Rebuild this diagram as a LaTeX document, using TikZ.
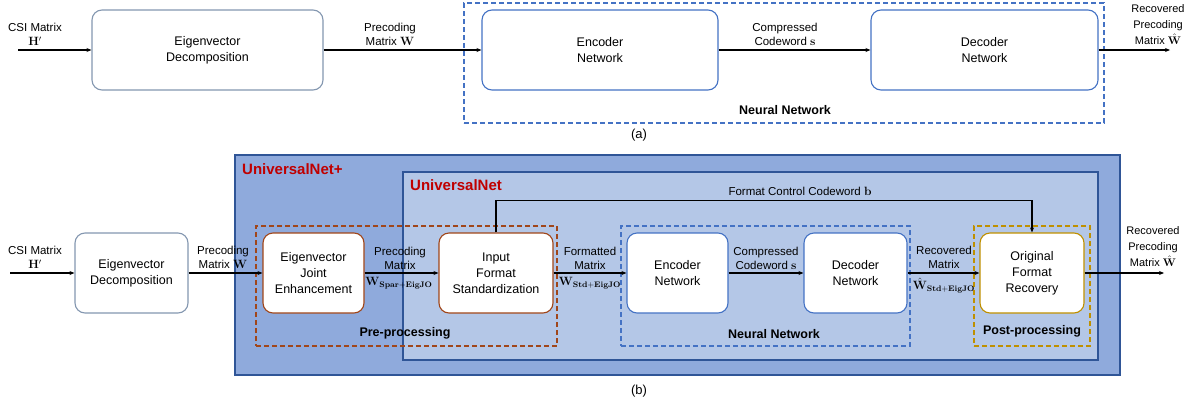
\documentclass[tikz,border=0pt]{standalone}
\usepackage[no-math]{fontspec}
\setmainfont{Liberation Sans}
\usetikzlibrary{arrows.meta}
\definecolor{outerfill}{HTML}{8FAADC}
\definecolor{innerfill}{HTML}{B4C7E7}
\definecolor{darkblue}{HTML}{2F5597}
\definecolor{midblue}{HTML}{4472C4}
\definecolor{grayblue}{HTML}{8497B0}
\definecolor{brownc}{HTML}{A0461A}
\definecolor{goldc}{HTML}{BF9000}
\definecolor{redt}{HTML}{C00000}
\tikzset{
  blk/.style={draw, rounded corners=10pt, fill=white, line width=1.1pt, align=center, minimum height=80pt, font=\fontsize{12.5}{16}\selectfont, inner sep=0pt},
  arr/.style={line width=1.1pt, -{Stealth[length=5pt,width=4pt]}},
  lbl/.style={align=center, font=\fontsize{11.5}{14}\selectfont, inner sep=1pt},
  dbox/.style={draw, dashed, line width=1.1pt, dash pattern=on 5pt off 3pt, inner sep=0pt, fill=none},
  ttl/.style={font=\bfseries\fontsize{12.5}{14}\selectfont, inner sep=0pt},
  redttl/.style={font=\bfseries\fontsize{15}{17}\selectfont, text=redt, inner sep=0pt, anchor=west},
}
\begin{document}
\begin{tikzpicture}[x=1pt,y=-1pt]
\useasboundingbox (0,0) rectangle (1193,407);
% ---------------- (a) ----------------
\coordinate (ain) at (18,50);
\coordinate (aout) at (1170,50);
\node[blk, draw=grayblue, minimum width=231pt] (aeig) at (207.5,50) {Eigenvector\\Decomposition};
\node[dbox, draw=midblue, minimum width=640pt, minimum height=120pt] (ann) at (784,63) {};
\node[blk, draw=midblue, minimum width=236pt] (aenc) at (600,50) {Encoder\\Network};
\node[blk, draw=midblue, minimum width=227pt] (adec) at (984.5,50) {Decoder\\Network};
\node[ttl] (annt) at (785,110) {Neural Network};
\draw[arr] (ain) -- (aeig.west);
\draw[arr] (aeig.east) -- (aenc.west);
\draw[arr] (aenc.east) -- (adec.west);
\draw[arr] (adec.east) -- (aout);
\node[lbl, anchor=south] (acsi) at (35,47) {CSI Matrix\\$\mathbf{H}'$};
\node[lbl, anchor=south] (apre) at (390,47) {Precoding\\Matrix $\mathbf{W}$};
\node[lbl, anchor=south] (acomp) at (785,47) {Compressed\\Codeword $\mathbf{s}$};
\node[lbl, anchor=south, font=\fontsize{11}{16}\selectfont] (arec) at (1158,46) {Recovered\\Precoding\\Matrix $\hat{\mathbf{W}}$};
\node[font=\fontsize{13}{15}\selectfont\rmfamily] (acap) at (639,135) {(a)};
% ---------------- (b) ----------------
\node[draw=darkblue, fill=outerfill, line width=1.2pt, minimum width=885pt, minimum height=220pt, inner sep=0pt] (unp) at (677.5,265) {};
\node[draw=darkblue, fill=innerfill, line width=1.2pt, minimum width=695pt, minimum height=188pt, inner sep=0pt] (un) at (750.5,266) {};
\node[redttl] (unpt) at (242,169) {UniversalNet+};
\node[redttl] (unt) at (410,185) {UniversalNet};
\node[dbox, draw=brownc, minimum width=301pt, minimum height=120pt] (pre) at (406.5,286) {};
\node[dbox, draw=midblue, minimum width=289pt, minimum height=120pt] (nn) at (765.5,286) {};
\node[dbox, draw=goldc, minimum width=116pt, minimum height=120pt] (post) at (1032,286) {};
\node[ttl] (pret) at (405,333) {Pre-processing};
\node[ttl] (nnt) at (774,334) {Neural Network};
\node[ttl] (postt) at (1032,331) {Post-processing};
\coordinate (bin) at (10,273);
\coordinate (bout) at (1164,273);
\node[blk, draw=grayblue, minimum width=113pt] (beig) at (131.5,273) {Eigenvector\\Decomposition};
\node[blk, draw=brownc, minimum width=101pt] (beje) at (313.5,273) {Eigenvector\\Joint\\Enhancement};
\node[blk, draw=brownc, minimum width=114pt] (bifs) at (496,273) {Input\\Format\\Standardization};
\node[blk, draw=midblue, minimum width=101pt] (benc) at (677.5,273) {Encoder\\Network};
\node[blk, draw=midblue, minimum width=103pt] (bdec) at (855.5,273) {Decoder\\Network};
\node[blk, draw=goldc, minimum width=104pt] (bofr) at (1032,273) {Original\\Format\\Recovery};
\draw[arr] (bin) -- (beig.west);
\draw[arr] (beig.east) -- (beje.west);
\draw[arr] (beje.east) -- (bifs.west);
\draw[arr] (bifs.east) -- (benc.west);
\draw[arr] (benc.east) -- (bdec.west);
\draw[arr] (bdec.east) -- (bofr.west);
\draw[arr] (bofr.east) -- (bout);
\draw[arr] (bifs.north) -- ++(0,-32) -| (bofr.north);
\node[lbl, anchor=south] (bfc) at (800,197) {Format Control Codeword $\mathbf{b}$};
\node[lbl, anchor=south] (bcsi) at (35,270) {CSI Matrix\\$\mathbf{H}'$};
\node[lbl, anchor=south] (bpre) at (223,270) {Precoding\\Matrix $\mathbf{W}$};
\node[lbl, anchor=south] (bpre2) at (400,271) {Precoding\\Matrix};
\node[lbl, anchor=north] (bpre2s) at (399,276) {$\mathbf{W}_{\mathbf{Spar+EigJO}}$};
\node[lbl, anchor=south] (bfm) at (590,271) {Formatted\\Matrix};
\node[lbl, anchor=north] (bfms) at (590,276) {$\mathbf{W}_{\mathbf{Std+EigJO}}$};
\node[lbl, anchor=south] (bcomp) at (766,271) {Compressed\\Codeword $\mathbf{s}$};
\node[lbl, anchor=south] (brm) at (944,270) {Recovered\\Matrix};
\node[lbl, anchor=north] (brms) at (944,277) {$\hat{\mathbf{W}}_{\mathbf{Std+EigJO}}$};
\node[lbl, anchor=south, font=\fontsize{11}{16}\selectfont] (brec) at (1153,268) {Recovered\\Precoding\\Matrix $\hat{\mathbf{W}}$};
\node[font=\fontsize{13}{15}\selectfont\rmfamily] (bcap) at (639,391) {(b)};
\end{tikzpicture}
\end{document}
